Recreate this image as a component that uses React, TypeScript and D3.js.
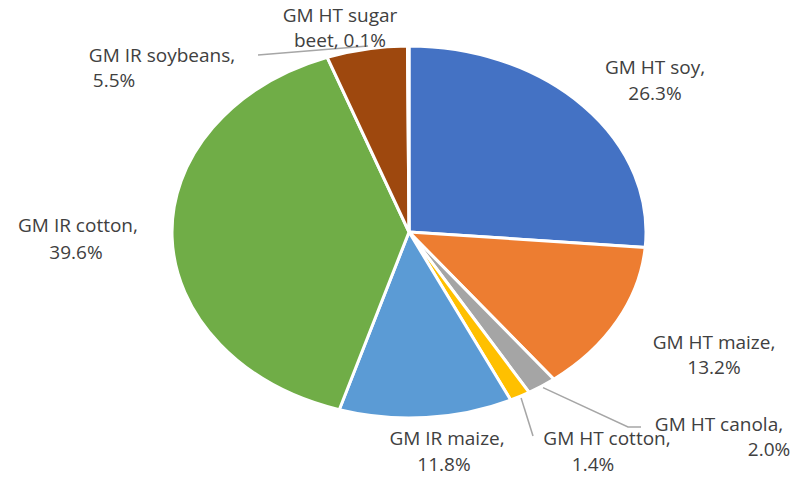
import React from "react";
import * as d3 from "d3";

const crops = [
  "GM HT soy",
  "GM HT maize",
  "GM HT canola",
  "GM HT cotton",
  "GM IR maize",
  "GM IR cotton",
  "GM IR soybeans",
  "GM HT sugar beet",
];
const shares = [26.3, 13.2, 2.0, 1.4, 11.8, 39.6, 5.5, 0.1];
const colors = ["#4472C4", "#ED7D31", "#A5A5A5", "#FFC000", "#5B9BD5", "#70AD47", "#9E480E", "#636363"];

// label lines and where they sit (layout only)
const labelLines = [
  [["GM HT soy,", 655, 74], ["26.3%", 655, 100]],
  [["GM HT maize,", 714, 349], ["13.2%", 714, 374]],
  [["GM HT canola,", 719, 431], ["2.0%", 769, 456]],
  [["GM HT cotton,", 607, 445], ["1.4%", 593, 471]],
  [["GM IR maize,", 447, 445], ["11.8%", 444, 471]],
  [["GM IR cotton,", 78, 232], ["39.6%", 76, 259]],
  [["GM IR soybeans,", 162, 62], ["5.5%", 114, 87]],
  [["GM HT sugar", 340, 22], ["beet, 0.1%", 340, 47]],
];

const cx = 409;
const cy = 232;
const rx = 237;
const ry = 186;

const App = () => {
  const data = crops.map((c, i) => ({ crop: c, value: shares[i], color: colors[i] }));
  const pie = d3.pie<any>().sort(null).value((d) => d.value);
  const arcs = pie(data);
  const arc = d3.arc<any>().innerRadius(0).outerRadius(ry);

  // point on the ellipse edge for a given angle
  const edge = (a: number, k = 1) => [cx + Math.sin(a) * rx * k, cy - Math.cos(a) * ry * k];

  const mid = (i: number) => (arcs[i].startAngle + arcs[i].endAngle) / 2;
  const canolaP = edge(mid(2), 1.01);
  const cottonP = edge(mid(3), 1.01);
  const beetP = edge(arcs[7].endAngle - 0.004, 1.0);

  return (
    <svg width={800} height={477} style={{ position: "absolute", left: 0, top: 0, background: "#fff" }}>
      <g transform={`translate(${cx},${cy}) scale(${rx / ry},1)`}>
        {arcs.map((a, i) => (
          <path
            key={i}
            d={arc(a) as string}
            fill={a.data.color}
            stroke="#fff"
            strokeWidth={3}
            vectorEffect="non-scaling-stroke"
          />
        ))}
      </g>
      <g fill="none" stroke="#A6A6A6" strokeWidth={1.5}>
        <polyline points={`${canolaP[0]},${canolaP[1]} 628,427 641,427`} />
        <polyline points={`${cottonP[0]},${cottonP[1]} 533,436`} />
        <polyline points={`258,55 ${beetP[0] - 40},${beetP[1]}`} />
      </g>
      <g fontFamily="'Open Sans', sans-serif" fontSize={19} fill="#404040" textAnchor="middle">
        {labelLines.map((l, i) =>
          l.map((t, j) => (
            <text key={`${i}-${j}`} x={t[1] as number} y={t[2] as number}>
              {t[0] as string}
            </text>
          ))
        )}
      </g>
    </svg>
  );
};

export default App;
